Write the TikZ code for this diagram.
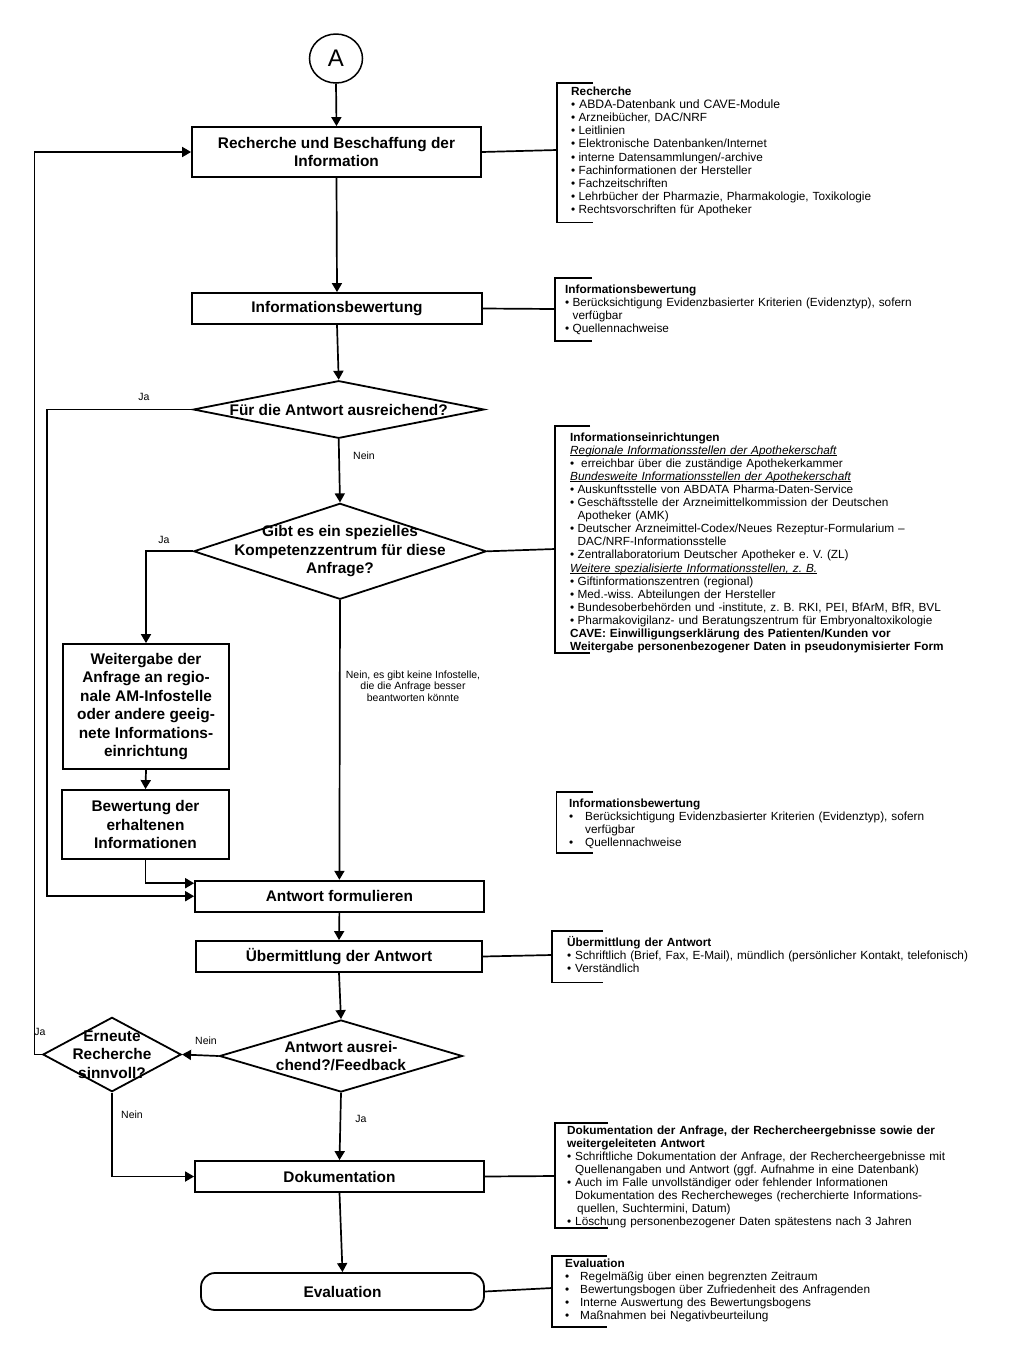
\documentclass[tikz,border=0pt]{standalone}
\usepackage{fontspec}
\setmainfont{Liberation Sans}
\usetikzlibrary{arrows.meta,shapes.geometric}
\frenchspacing
\newcommand\bi[2][7.4pt]{\par\noindent\hangindent=#1\hangafter=1\makebox[#1][l]{•}#2}
\newcommand\ulit[1]{\par\noindent\setbox0\hbox{\textit{#1}}\rlap{\rule[-1.4pt]{\wd0}{0.6pt}}\box0}
\begin{document}
\begin{tikzpicture}[x=1pt,y=-1pt,
  box/.style={draw, line width=1.8pt, inner sep=0pt, align=center, font=\bfseries\fontsize{15.4}{18.4}\selectfont},
  dia/.style={draw, diamond, line width=1.8pt, inner sep=0pt},
  dtext/.style={align=center, font=\bfseries\fontsize{15.4}{18.4}\selectfont, inner sep=0pt},
  arr/.style={line width=1.7pt, -{Triangle[length=9pt,width=10pt]}},
  con/.style={line width=1.7pt},
  lab/.style={font=\fontsize{10.5}{11.5}\selectfont, inner sep=0pt, align=center},
  brk/.style={line width=1.5pt},
  brtext/.style={anchor=base west, inner sep=0pt, text width=440pt, align=left, font=\fontsize{11.8}{13.1}\selectfont}
]
\fill[white] (0,0) rectangle (1024,1366);
\useasboundingbox (0,0) rectangle (1024,1366);

% main flow nodes
\node[draw, ellipse, line width=1.5pt, minimum width=53pt, minimum height=49pt, inner sep=0pt, font=\fontsize{24}{24}\selectfont] (circ) at (336,58.5) {A};
\node[box, minimum width=289pt, minimum height=50pt] (box1) at (336.5,152) {Recherche und Beschaffung der\\Information};
\node[box, minimum width=290pt, minimum height=31pt] (box2) at (337,308.5) {Informationsbewertung};
\node[dia, minimum width=291pt, minimum height=57.6pt] (d1) at (338.7,409.5) {};
\node[dtext] (d1t) at (d1.center) {Für die Antwort ausreichend?};
\node[dia, minimum width=292.7pt, minimum height=96pt] (d2) at (340,551.3) {};
\node[dtext] (d2t) at (d2.center) {Gibt es ein spezielles\\Kompetenzzentrum für diese\\Anfrage?};
\node[box, minimum width=166pt, minimum height=125pt] (wb) at (146,706.5) {Weitergabe der\\Anfrage an regio-\\nale AM-Infostelle\\oder andere geeig-\\nete Informations-\\einrichtung};
\node[box, minimum width=167pt, minimum height=69pt] (bew) at (145.5,824.5) {Bewertung der\\erhaltenen\\Informationen};
\node[box, minimum width=288.7pt, minimum height=31pt] (antw) at (339.4,896.2) {Antwort formulieren};
\node[box, minimum width=286pt, minimum height=31pt] (ueb) at (339,956.5) {Übermittlung der Antwort};
\node[dia, minimum width=243pt, minimum height=72pt] (d3) at (341,1056) {};
\node[dtext] (d3t) at (d3.center) {Antwort ausrei-\\chend?/Feedback};
\node[dia, minimum width=138.3pt, minimum height=74.4pt] (er) at (112,1054.5) {};
\node[dtext] (ert) at (er.center) {Erneute\\Recherche\\sinnvoll?};
\node[box, minimum width=289pt, minimum height=31pt] (dok) at (339.5,1176.5) {Dokumentation};
\node[box, rounded corners=14pt, minimum width=283pt, minimum height=37pt] (eval) at (342.5,1291.5) {Evaluation};

% connectors
\draw[arr] (circ.south) -- (box1.north);
\draw[arr] (box1.south) -- (box2.north);
\draw[arr] (box2.south) -- (d1.north);
\draw[arr] (d1.south) -- (d2.north);
\draw[arr] (d2.south) -- (antw.north);
\draw[arr] (antw.south) -- (ueb.north);
\draw[arr] (ueb.south) -- (d3.north);
\draw[arr] (d3.south) -- (dok.north);
\draw[arr] (dok.south) -- (eval.north);
\coordinate (L1) at (47,409.5);
\draw[arr] (d1.west) -- (L1) |- (antw.west);
\draw[arr] (d2.west) -| (wb.north);
\draw[arr] (wb.south) -- (bew.north);
\draw[arr] (bew.south) |- ([yshift=13pt]antw.west);
\draw[arr] (d3.west) -- (er.east);
\coordinate (L2) at (34.5,1054.5);
\draw[arr] (er.west) -- (L2) |- (box1.west);
\draw[arr] (er.south) |- (dok.west);

% labels
\node[lab] (ja1) at (144,397) {Ja};
\node[lab] (nein1) at (364,455.5) {Nein};
\node[lab] (ja2) at (164,540) {Ja};
\node[lab] (nein2) at (413,686) {Nein, es gibt keine Infostelle,\\die die Anfrage besser\\beantworten könnte};
\node[lab] (ja3) at (40,1032) {Ja};
\node[lab] (nein3) at (206,1041) {Nein};
\node[lab] (nein4) at (132,1115) {Nein};
\node[lab] (ja4) at (361,1119) {Ja};

% brackets
\draw[brk] (593,83) -- (557,83) -- (557,222.5) -- (593,222.5);
\draw[brk] (592,278) -- (555,278) -- (555,341) -- (592,341);
\draw[brk] (590,426) -- (555,426) -- (555,653) -- (590,653);
\draw[brk] (593,792) -- (556.5,792) -- (556.5,853) -- (593,853);
\draw[brk] (603,931) -- (552,931) -- (552,982.5) -- (603,982.5);
\draw[brk] (608,1123) -- (555,1123) -- (555,1228) -- (608,1228);
\draw[brk] (607,1256) -- (552,1256) -- (552,1327) -- (607,1327);

\coordinate (c1) at (557,150);
\coordinate (c2) at (555,309);
\coordinate (c3) at (555,549);
\coordinate (c5) at (552,955);
\coordinate (c6) at (555,1176);
\coordinate (c7) at (552,1288);
\draw[con] (box1.east) -- (c1);
\draw[con] (box2.east) -- (c2);
\draw[con] (d2.east) -- (c3);
\draw[con] (ueb.east) -- (c5);
\draw[con] (dok.east) -- (c6);
\draw[con] (eval.east) -- (c7);

% bracket texts
\node[brtext] (t1) at (571,95.5) {\noindent\textbf{Recherche}
\bi[8pt]{{\fontsize{12.2}{13.1}\selectfont ABDA-Datenbank und CAVE-Module}}
\bi{Arzneibücher, DAC/NRF}
\bi{Leitlinien}
\bi{Elektronische Datenbanken/Internet}
\bi{interne Datensammlungen/-archive}
\bi{Fachinformationen der Hersteller}
\bi{Fachzeitschriften}
\bi{Lehrbücher der Pharmazie, Pharmakologie, Toxikologie}
\bi{Rechtsvorschriften für Apotheker}};

\node[brtext] (t2) at (565,293) {\noindent\textbf{Informationsbewertung}
\bi{Berücksichtigung Evidenzbasierter Kriterien (Evidenztyp), sofern\newline verfügbar}
\bi{Quellennachweise}};

\node[brtext] (t3) at (570,441) {\noindent\textbf{Informationseinrichtungen}
\ulit{Regionale Informationsstellen der Apothekerschaft}
\bi[11pt]{erreichbar über die zuständige Apothekerkammer}
\ulit{Bundesweite Informationsstellen der Apothekerschaft}
\bi{Auskunftsstelle von ABDATA Pharma-Daten-Service}
\bi{Geschäftsstelle der Arzneimittelkommission der Deutschen\newline Apotheker (AMK)}
\bi{Deutscher Arzneimittel-Codex/Neues Rezeptur-Formularium –\newline DAC/NRF-Informationsstelle}
\bi{Zentrallaboratorium Deutscher Apotheker e. V. (ZL)}
\ulit{Weitere spezialisierte Informationsstellen, z. B.}
\bi{Giftinformationszentren (regional)}
\bi{Med.-wiss. Abteilungen der Hersteller}
\bi{Bundesoberbehörden und -institute, z. B. RKI, PEI, BfArM, BfR, BVL}
\bi{Pharmakovigilanz- und Beratungszentrum für Embryonaltoxikologie}
\par\noindent\textbf{CAVE: Einwilligungserklärung des Patienten/Kunden vor}
\par\noindent\textbf{Weitergabe personenbezogener Daten in pseudonymisierter Form}};

\node[brtext] (t4) at (569,807) {\noindent\textbf{Informationsbewertung}
\bi[16pt]{Berücksichtigung Evidenzbasierter Kriterien (Evidenztyp), sofern\newline verfügbar}
\bi[16pt]{Quellennachweise}};

\node[brtext] (t5) at (567,946) {\noindent\textbf{Übermittlung der Antwort}
\bi[8pt]{Schriftlich (Brief, Fax, E-Mail), mündlich (persönlicher Kontakt, telefonisch)}
\bi[8pt]{Verständlich}};

\node[brtext] (t6) at (567,1134) {\noindent\textbf{Dokumentation der Anfrage, der Rechercheergebnisse sowie der}
\par\noindent\textbf{weitergeleiteten Antwort}
\bi[8pt]{Schriftliche Dokumentation der Anfrage, der Rechercheergebnisse mit\newline Quellenangaben und Antwort (ggf. Aufnahme in eine Datenbank)}
\bi[8pt]{Auch im Falle unvollständiger oder fehlender Informationen\newline Dokumentation des Rechercheweges (recherchierte Informations-\newline\hspace*{2pt}quellen, Suchtermini, Datum)}
\bi[8pt]{Löschung personenbezogener Daten spätestens nach 3 Jahren}};

\node[brtext] (t7) at (565,1267) {\noindent\textbf{Evaluation}
\bi[15pt]{Regelmäßig über einen begrenzten Zeitraum}
\bi[15pt]{Bewertungsbogen über Zufriedenheit des Anfragenden}
\bi[15pt]{Interne Auswertung des Bewertungsbogens}
\bi[15pt]{Maßnahmen bei Negativbeurteilung}};
\end{tikzpicture}
\end{document}
